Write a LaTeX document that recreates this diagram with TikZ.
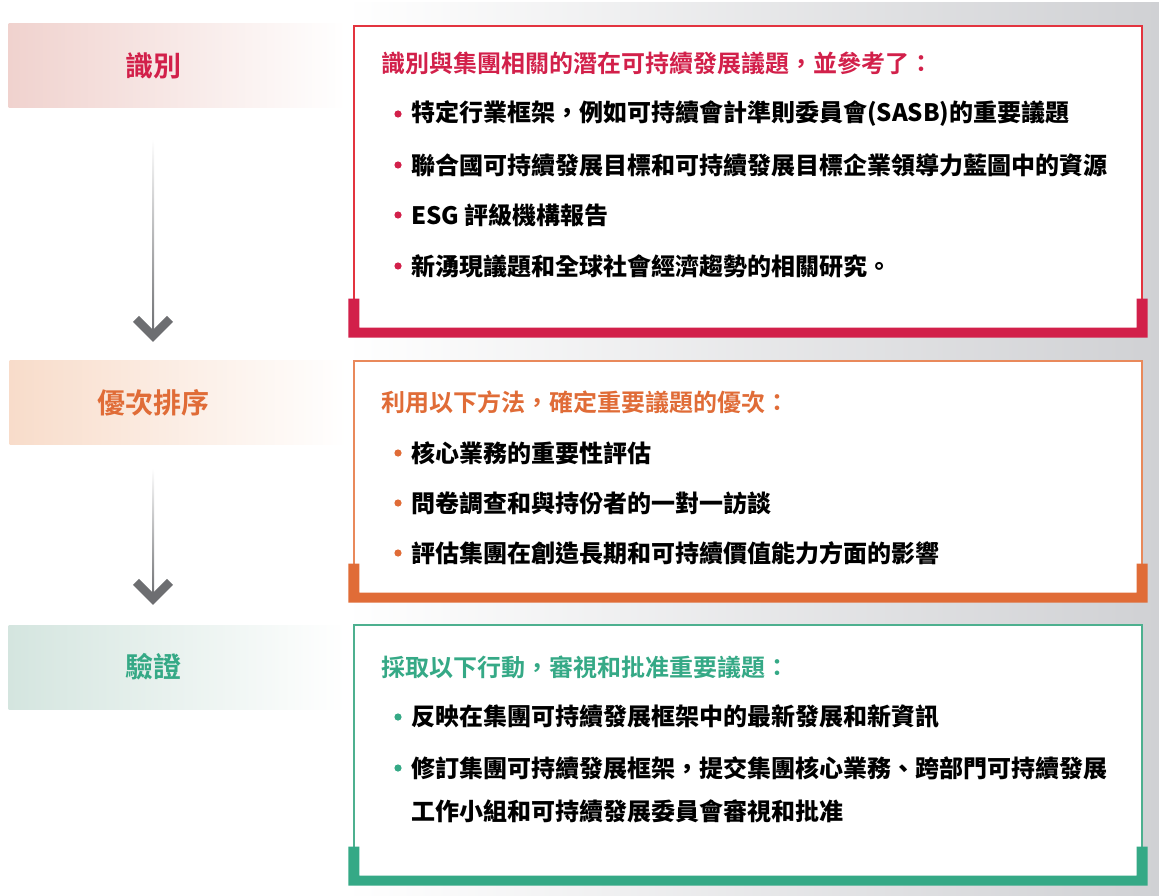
\documentclass[tikz,border=0pt]{standalone}
\usepackage{fontspec}
\setmainfont{Noto Sans CJK TC}[BoldFont={Noto Sans CJK TC Bold}]
\newfontfamily\heavyfont{Noto Sans CJK TC Black}
\usepackage{xcolor}
\usetikzlibrary{calc}
\definecolor{matred}{HTML}{D2204A}
\definecolor{matredline}{HTML}{E3343F}
\definecolor{matorange}{HTML}{E06C37}
\definecolor{matorangeline}{HTML}{E9895B}
\definecolor{matgreen}{HTML}{35A986}
\definecolor{matgreenline}{HTML}{4DB08F}
\definecolor{matpink}{HTML}{F0D2CE}
\definecolor{matpeach}{HTML}{F8DCCA}
\definecolor{matmint}{HTML}{D4E5DF}
\definecolor{matgrey}{HTML}{6D6E71}
\definecolor{matbg}{HTML}{D0D1D4}

\tikzset{
  band/.style={minimum width=337pt, minimum height=84pt, inner sep=0pt, right color=white},
  stagetitle/.style={inner sep=0pt, font=\fontsize{28}{32}\selectfont\bfseries},
  panel/.style={draw, line width=1.2pt, fill=white, minimum width=788pt, inner sep=0pt},
  heading/.style={anchor=west, inner sep=0pt, font=\fontsize{24}{28}\selectfont\bfseries},
  item/.style={anchor=west, inner sep=0pt, font=\fontsize{24}{28}\selectfont\heavyfont, text=black},
  chevron/.style={draw=matgrey, line width=8.5pt, miter limit=10},
}

\begin{document}
\begin{tikzpicture}[x=1pt, y=-1pt]
        \newcommand{\figmatheadx}{381}
        \newcommand{\figmatitemx}{411}
        \newcommand{\figmatbracket}[2]{\fill[#2] ($(#1.south west)+(-5,-34)$) -- ($(#1.south west)+(-5,5)$) -- ($(#1.south east)+(5,5)$) -- ($(#1.south east)+(5,-34)$) -- ($(#1.south east)+(-6,-34)$) -- ($(#1.south east)+(-6,-5)$) -- ($(#1.south west)+(6,-5)$) -- ($(#1.south west)+(6,-34)$) -- cycle;}
        \newcommand{\figmatdot}[2]{\fill[#2] ($(#1.west)+(-13,0)$) circle (3.6);}
        \useasboundingbox (0,0) rectangle (1159,896);
        \shade[left color=white, right color=matbg] (345,3) rectangle (1159,896);
        % stage bands
        \node[band, left color=matpink] (idband) at (177,66) {};
        \node[band, left color=matpeach] (priband) at (178,402) {};
        \node[band, left color=matmint] (vfband) at (177,667) {};
        \node[stagetitle, text=matred] (idtitle) at (153,66) {識別};
        \node[stagetitle, text=matorange] (prititle) at (153,403) {優次排序};
        \node[stagetitle, text=matgreen] (vftitle) at (153,667) {驗證};
        % arrows between stages
        \coordinate (arrAs) at ($(idtitle |- idband.south)+(0,31)$);
        \coordinate (arrAe) at ($(prititle |- priband.north)+(0,-18)$);
        \shade[top color=white, bottom color=matgrey] ($(arrAs)+(-1,0)$) rectangle ($(arrAe)+(1,-8)$);
        \draw[chevron] ($(arrAe)+(-17,-23)$) -- ($(arrAe)+(0,-6)$) -- ($(arrAe)+(17,-23)$);
        \coordinate (arrBs) at ($(prititle |- priband.south)+(0,24)$);
        \coordinate (arrBe) at ($(vftitle |- vfband.north)+(0,-20)$);
        \shade[top color=white, bottom color=matgrey] ($(arrBs)+(-1,0)$) rectangle ($(arrBe)+(1,-8)$);
        \draw[chevron] ($(arrBe)+(-17,-23)$) -- ($(arrBe)+(0,-6)$) -- ($(arrBe)+(17,-23)$);
        % panels
        \node[panel, draw=matredline, minimum height=306pt] (idpanel) at (748,179) {};
        \figmatbracket{idpanel}{matred}
        \node[panel, draw=matorangeline, minimum height=236pt] (pripanel) at (748,479) {};
        \figmatbracket{pripanel}{matorange}
        \node[panel, draw=matgreenline, minimum height=255pt] (vfpanel) at (748,752.5) {};
        \figmatbracket{vfpanel}{matgreen}
        % identification
        \node[heading, text=matred] (idhead) at (\figmatheadx,63) {識別與集團相關的潛在可持續發展議題，並參考了：};
        \node[item] (iditemA) at (\figmatitemx,114) {特定行業框架，例如可持續會計準則委員會(SASB)的重要議題};
        \node[item] (iditemB) at (\figmatitemx,165) {聯合國可持續發展目標和可持續發展目標企業領導力藍圖中的資源};
        \node[item] (iditemC) at (\figmatitemx,215) {ESG 評級機構報告};
        \node[item] (iditemD) at (\figmatitemx,266) {新湧現議題和全球社會經濟趨勢的相關研究。};
        \figmatdot{iditemA}{matred}
        \figmatdot{iditemB}{matred}
        \figmatdot{iditemC}{matred}
        \figmatdot{iditemD}{matred}
        % prioritisation
        \node[heading, text=matorange] (prihead) at (\figmatheadx,402) {利用以下方法，確定重要議題的優次：};
        \node[item] (priitemA) at (\figmatitemx,453) {核心業務的重要性評估};
        \node[item] (priitemB) at (\figmatitemx,503) {問卷調查和與持份者的一對一訪談};
        \node[item] (priitemC) at (\figmatitemx,553) {評估集團在創造長期和可持續價值能力方面的影響};
        \figmatdot{priitemA}{matorange}
        \figmatdot{priitemB}{matorange}
        \figmatdot{priitemC}{matorange}
        % validation
        \node[heading, text=matgreen] (vfhead) at (\figmatheadx,667) {採取以下行動，審視和批准重要議題：};
        \node[item] (vfitemA) at (\figmatitemx,717) {反映在集團可持續發展框架中的最新發展和新資訊};
        \node[item] (vfitemB) at (\figmatitemx,768) {修訂集團可持續發展框架，提交集團核心業務、跨部門可持續發展};
        \node[item] (vfitemBb) at (\figmatitemx,811) {工作小組和可持續發展委員會審視和批准};
        \figmatdot{vfitemA}{matgreen}
        \figmatdot{vfitemB}{matgreen}
    \end{tikzpicture}
\end{document}
